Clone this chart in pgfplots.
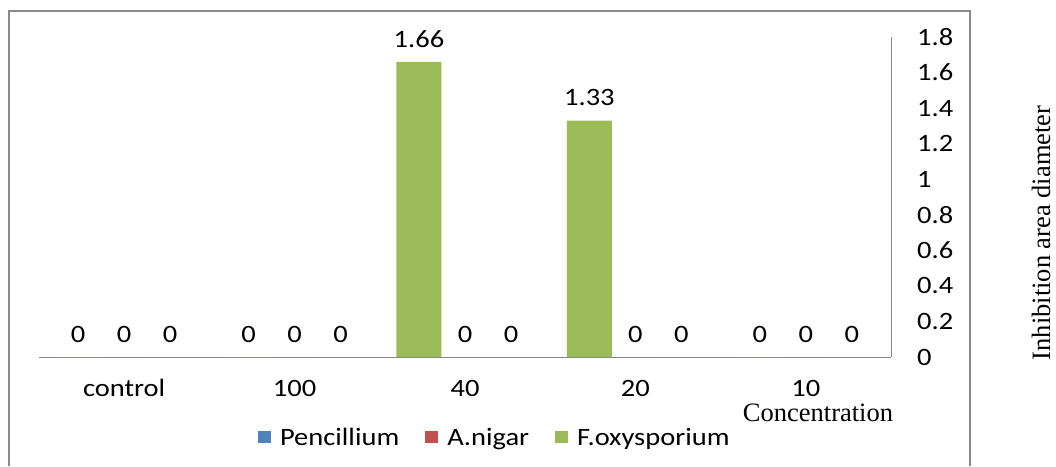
\documentclass[border=0pt]{standalone}
\usepackage{pgfplots}
\pgfplotsset{compat=1.18}
\usepackage{fontspec}
\setmainfont{Carlito}[FakeStretch=1.14]
\newfontfamily\tnr{Liberation Serif}
\definecolor{cblue}{HTML}{4F81BD}
\definecolor{cred}{HTML}{C0504D}
\definecolor{cgreen}{HTML}{9BBB59}
\definecolor{axgray}{HTML}{888888}
\definecolor{framegray}{HTML}{898989}
\newcommand{\fs}{\fontsize{25pt}{29pt}\selectfont}
\begin{document}
\begin{tikzpicture}
\fill[white] (0pt,0pt) rectangle (1056pt,466pt);
\draw[framegray, line width=2.2pt] (9pt,0pt) -- (9pt,455pt) -- (970pt,455pt) -- (970pt,0pt);
\begin{axis}[
  at={(39pt,109pt)}, anchor=south west,
  scale only axis, width=852pt, height=320pt,
  xmin=-0.5, xmax=4.5, ymin=0, ymax=1.8,
  axis x line*=bottom, axis y line*=right,
  axis line style={axgray, line width=1pt, -},
  xtick={0,1,2,3,4}, xticklabels={control,100,40,20,10},
  ytick={0,0.2,0.4,0.6,0.8,1,1.2,1.4,1.6,1.8},
  major tick length=0pt,
  /pgf/number format/assume math mode=true,
  tick label style={font=\fs, inner sep=0pt},
  xticklabel style={anchor=base, yshift=-39pt},
  yticklabel style={anchor=west, xshift=26pt},
  nodes near coords,
  nodes near coords style={font=\fs, anchor=center, inner sep=0pt, yshift=23pt, text=black},
  xlabel={Concentration},
  every axis x label/.style={at={(rel axis cs:0.9143,-0.2)}, anchor=base, font=\tnr\fontsize{26.5pt}{30pt}\selectfont},
  legend columns=3,
  legend style={at={(rel axis cs:0.535,-0.253)}, anchor=center, draw=none, fill=none, font=\fs,
    /tikz/every even column/.append style={column sep=24pt}},
  legend image code/.code={\fill[#1] (0pt,-5pt) rectangle (13pt,7pt); \path (20pt,0pt);},
]
\addplot[ybar, bar width=45pt, bar shift=0pt, fill=cblue, draw=none] coordinates {(0.27,0) (1.27,0) (2.27,0) (3.27,0) (4.27,0)};
\addlegendentry{Pencillium}
\addplot[ybar, bar width=45pt, bar shift=0pt, fill=cred, draw=none] coordinates {(0,0) (1,0) (2,0) (3,0) (4,0)};
\addlegendentry{A.nigar}
\addplot[ybar, bar width=45pt, bar shift=0pt, fill=cgreen, draw=none] coordinates {(-0.27,0) (0.73,0) (1.73,1.66) (2.73,1.33) (3.73,0)};
\addlegendentry{F.oxysporium}
\end{axis}
\node[rotate=90, font=\tnr\fontsize{26.5pt}{30pt}\selectfont] at (1041pt,233pt) {Inhibition area diameter};
\pgfresetboundingbox
\useasboundingbox (0pt,0pt) rectangle (1056pt,466pt);
\end{tikzpicture}
\end{document}
